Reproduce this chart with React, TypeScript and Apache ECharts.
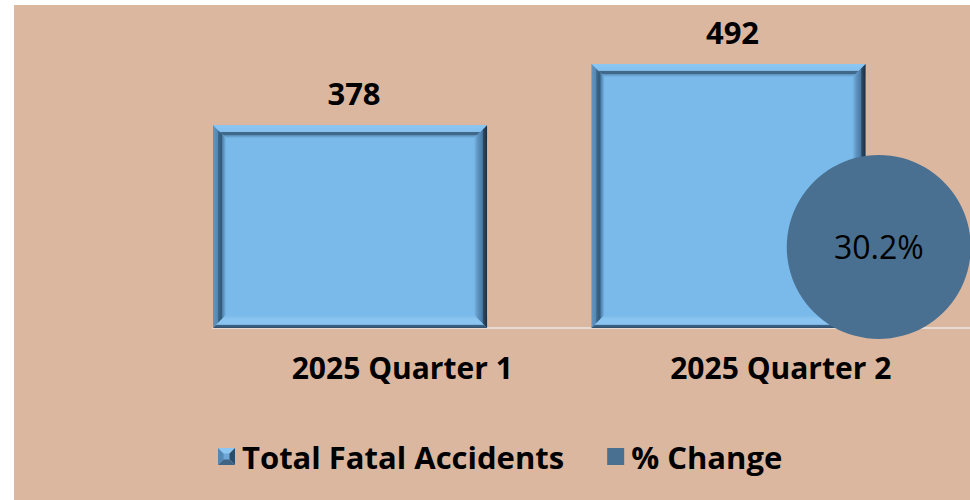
import React, { useEffect, useRef } from "react";
import * as echarts from "echarts";

const categories = ["2025 Quarter 1", "2025 Quarter 2"];
const totalFatal = [378, 492];
const pctChangeCategory = "2025 Quarter 2";
const pctChange = 30.2;
const seriesNames = ["Total Fatal Accidents", "% Change"];

const FONT = "'Open Sans', Lato, 'DejaVu Sans', sans-serif";
const FACE = "#7ABAEA";
const BUBBLE = "#4A7091";

const iconSvg =
  "<svg xmlns='http://www.w3.org/2000/svg' width='17' height='17' viewBox='0 0 17 17'>" +
  "<polygon points='0,0 17,0 8.5,8.5' fill='#8CC6F2'/>" +
  "<polygon points='0,0 8.5,8.5 0,17' fill='#5587B3'/>" +
  "<polygon points='17,0 17,17 8.5,8.5' fill='#2D4C66'/>" +
  "<polygon points='0,17 17,17 8.5,8.5' fill='#3E6586'/>" +
  "<rect x='5.5' y='5.5' width='6' height='6' fill='#6FA8D8'/>" +
  "</svg>";
const iconUri = "image://data:image/svg+xml;charset=utf-8," + encodeURIComponent(iconSvg);

function grad(x: number, y: number, x2: number, y2: number, stops: [number, string][]) {
  return new echarts.graphic.LinearGradient(
    x,
    y,
    x2,
    y2,
    stops.map(([offset, color]) => ({ offset, color }))
  );
}

export default function App() {
  const ref = useRef<HTMLDivElement>(null);
  useEffect(() => {
    if (!ref.current) return;
    const chart = echarts.init(ref.current, undefined, { renderer: "svg" });
    const renderBar = (params: any, api: any) => {
      const idx = api.value(0);
      const val = api.value(1);
      const top = api.coord([idx, val]);
      const base = api.coord([idx, 0]);
      const band = api.size([1, 0])[0];
      const x0 = top[0] - band / 2;
      const w = band * 0.724;
      const x1 = x0 + w;
      const y0 = top[1];
      const y1 = base[1];
      const B = 13;
      return {
        type: "group",
        children: [
          { type: "rect", shape: { x: x0, y: y0, width: w, height: y1 - y0 }, style: { fill: FACE } },
          {
            type: "polygon",
            shape: { points: [[x0, y0], [x1, y0], [x1 - B, y0 + B], [x0 + B, y0 + B]] },
            style: {
              fill: grad(0, 0, 0, 1, [
                [0, "#8CC6F2"], [0.5, "#86C0EE"], [0.54, "#3F6889"], [0.74, "#3F6889"], [0.8, "#5E93C0"], [1, "#78B8E8"],
              ]),
            },
          },
          {
            type: "polygon",
            shape: { points: [[x0, y0], [x0 + B, y0 + B], [x0 + B, y1 - B], [x0, y1]] },
            style: {
              fill: grad(0, 0, 1, 0, [
                [0, "#6395C2"], [0.35, "#5587B3"], [0.4, "#3C6688"], [0.65, "#335A7A"], [0.72, "#4D7FAA"], [1, "#78B8E8"],
              ]),
            },
          },
          {
            type: "polygon",
            shape: { points: [[x1, y0], [x1, y1], [x1 - B, y1 - B], [x1 - B, y0 + B]] },
            style: {
              fill: grad(1, 0, 0, 0, [
                [0, "#1B2F40"], [0.3, "#2D4C66"], [0.36, "#4A7AA3"], [0.7, "#5E92BF"], [1, "#78B8E8"],
              ]),
            },
          },
          {
            type: "polygon",
            shape: { points: [[x0, y1], [x1, y1], [x1 - B, y1 - B], [x0 + B, y1 - B]] },
            style: {
              fill: grad(0, 1, 0, 0, [
                [0, "#2F506D"], [0.22, "#3E6586"], [0.28, "#8AC4F0"], [0.7, "#8AC4F0"], [1, "#78B8E8"],
              ]),
            },
          },
          {
            type: "text",
            style: {
              text: String(val),
              x: x0 + w / 2 + 4,
              y: y0 - 32,
              align: "center",
              verticalAlign: "middle",
              fontFamily: FONT,
              fontWeight: "bold",
              fontSize: 31,
              fill: "#000",
            },
          },
        ],
      };
    };

    chart.setOption({
      animation: false,
      backgroundColor: "#DBB7A0",
      grid: { left: 199, right: 0, top: 1, bottom: 172, containLabel: false },
      legend: {
        left: 204,
        top: 436,
        padding: 0,
        itemWidth: 17,
        itemHeight: 17,
        itemGap: 43,
        textStyle: { fontFamily: FONT, fontWeight: "bold", fontSize: 31, color: "#000", padding: [0, 0, 0, 2] },
        data: [
          { name: seriesNames[0], icon: iconUri },
          { name: seriesNames[1], icon: "rect" },
        ],
      },
      xAxis: {
        type: "category",
        data: categories,
        axisLine: { show: true, lineStyle: { color: "#E6DAD2", width: 2 } },
        axisTick: { show: false },
        axisLabel: { fontFamily: FONT, fontWeight: "bold", fontSize: 30, color: "#000", margin: 24 },
      },
      yAxis: [
        { type: "value", min: 0, max: 600, show: false },
        { type: "value", min: 0, max: 120, show: false },
      ],
      series: [
        {
          name: seriesNames[0],
          type: "custom",
          renderItem: renderBar,
          itemStyle: { color: "#6FA8D8" },
          encode: { x: 0, y: 1 },
          data: totalFatal.map((v, i) => [i, v]),
          z: 2,
        },
        {
          name: seriesNames[1],
          type: "scatter",
          yAxisIndex: 1,
          symbol: "circle",
          symbolSize: 184,
          symbolOffset: [98, 0],
          clip: false,
          itemStyle: { color: BUBBLE, opacity: 1 },
          label: {
            show: true,
            position: "inside",
            formatter: (p: any) => p.value[1] + "%",
            fontFamily: FONT,
            fontSize: 32,
            color: "#000",
          },
          data: [[pctChangeCategory, pctChange]],
          z: 3,
        },
      ],
    });
    return () => chart.dispose();
  }, []);
  return (
    <div style={{ position: "fixed", left: 0, top: 0, width: 970, height: 500, background: "#fff" }}>
      <div ref={ref} style={{ position: "absolute", left: 14, top: 5, width: 956, height: 495 }} />
    </div>
  );
}
